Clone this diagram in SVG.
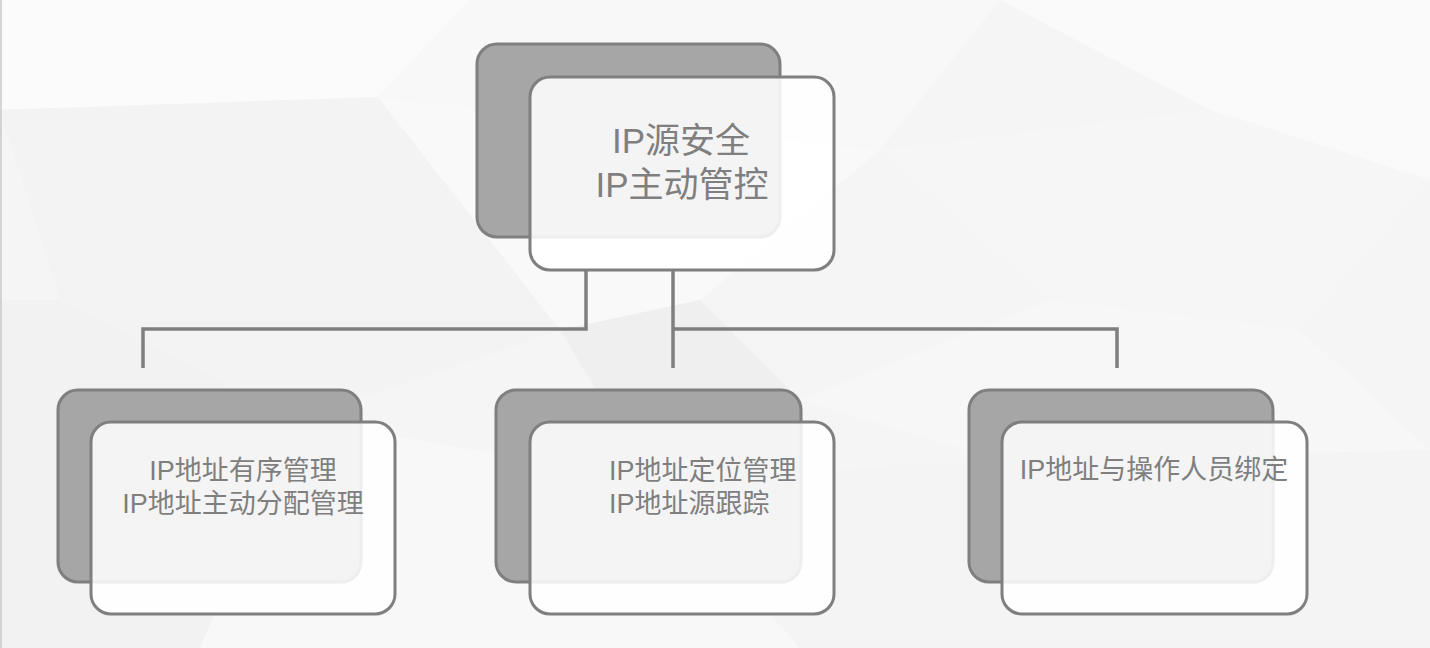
<svg xmlns="http://www.w3.org/2000/svg" width="1430" height="648" viewBox="0 0 1430 648">
<defs>
<style>
.back{fill:#a6a6a6;stroke:#7f7f7f;stroke-width:3}
.front{fill:#ffffff;fill-opacity:0.87;stroke:#7f7f7f;stroke-width:3}
.t{font-family:"Liberation Sans","Noto Sans CJK SC",sans-serif;fill:#7f7f7f}
.big{font-size:35px}
.small{font-size:27px}
.conn{fill:none;stroke:#7f7f7f;stroke-width:3.5}
</style>
</defs>
<g id="background">
<rect x="0" y="0" width="1430" height="648" fill="#f5f5f5"/>
<polygon points="0,0 470,0 378,97 0,110" fill="#fbfbfb"/>
<polygon points="470,0 1000,0 880,150 378,97" fill="#f8f8f8"/>
<polygon points="1000,0 1430,0 1430,180 1210,110" fill="#fafafa"/>
<polygon points="0,110 378,97 560,330 300,420 60,300" fill="#f3f3f3"/>
<polygon points="378,97 880,150 700,300 560,330" fill="#f9f9f9"/>
<polygon points="880,150 1210,110 1430,180 1300,330 1050,300" fill="#f6f6f6"/>
<polygon points="560,330 700,300 800,400 650,480" fill="#efefef"/>
<polygon points="800,400 1050,300 1300,330 1430,450 1000,460" fill="#f7f7f7"/>
<polygon points="0,300 60,300 300,420 200,648 0,648" fill="#f2f2f2"/>
<polygon points="300,420 650,480 800,648 200,648" fill="#f8f8f8"/>
<polygon points="650,480 1000,460 1430,450 1430,648 800,648" fill="#f4f4f4"/>
<line x1="1" y1="0" x2="1" y2="648" stroke="#c8c8c8" stroke-width="1.5"/>
</g>
<g id="connectors">
<polyline class="conn" points="586,270 586,329 143,329 143,368"/>
<polyline class="conn" points="673,270 673,368"/>
<polyline class="conn" points="673,329 1117,329 1117,368"/>
</g>
<g id="node-top">
<rect class="back" x="477" y="44" width="303" height="193" rx="20"/>
<rect class="front" x="530" y="77" width="304" height="193" rx="20"/>
<text class="t big" text-anchor="middle" x="681" y="153">IP源安全</text>
<text class="t big" text-anchor="middle" x="682" y="197">IP主动管控</text>
</g>
<g id="node-left">
<rect class="back" x="58" y="390" width="303" height="192" rx="20"/>
<rect class="front" x="91" y="422" width="304" height="192" rx="20"/>
<text class="t small" text-anchor="middle" x="243" y="480">IP地址有序管理</text>
<text class="t small" text-anchor="middle" x="243" y="513">IP地址主动分配管理</text>
</g>
<g id="node-middle">
<rect class="back" x="496" y="390" width="305" height="192" rx="20"/>
<rect class="front" x="530" y="422" width="304" height="192" rx="20"/>
<text class="t small" x="609" y="480">IP地址定位管理</text>
<text class="t small" x="609" y="513">IP地址源跟踪</text>
</g>
<g id="node-right">
<rect class="back" x="969" y="390" width="304" height="192" rx="20"/>
<rect class="front" x="1002" y="422" width="305" height="192" rx="20"/>
<text class="t small" text-anchor="middle" x="1154" y="479">IP地址与操作人员绑定</text>
</g>
</svg>
